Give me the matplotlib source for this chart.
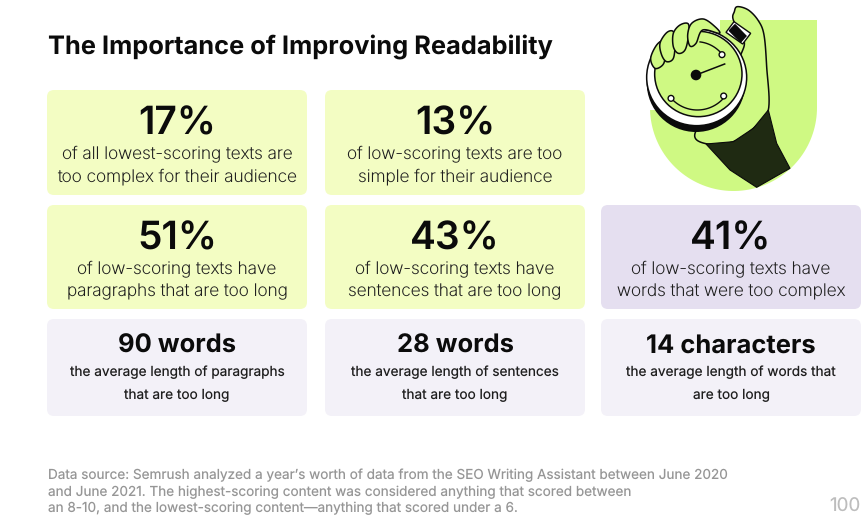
import matplotlib
matplotlib.use('Agg')
import matplotlib.pyplot as plt
import numpy as np
from matplotlib.patches import FancyBboxPatch, Ellipse, Polygon, Circle, Rectangle

plt.rcParams['font.family'] = ['Inter', 'DejaVu Sans']
plt.rcParams['text.hinting'] = 'no_hinting'

title = 'The Importance of Improving Readability'
top_values = ['17%', '13%']
top_captions = ['of all lowest-scoring texts are\ntoo complex for their audience',
                'of low-scoring texts are too\nsimple for their audience']
mid_values = ['51%', '43%', '41%']
mid_captions = ['of low-scoring texts have\nparagraphs that are too long',
                'of low-scoring texts have\nsentences that are too long',
                'of low-scoring texts have\nwords that were too complex']
low_values = ['90 words', '28 words', '14 characters']
low_captions = ['the average length of paragraphs\nthat are too long',
                'the average length of sentences\nthat are too long',
                'the average length of words that\nare too long']
source_lines = ['Data source: Semrush analyzed a year\u2019s worth of data from the SEO Writing Assistant between June 2020',
                'and June 2021. The highest-scoring content was considered anything that scored between',
                'an 8-10, and the lowest-scoring content\u2014anything that scored under a 6.']
page_number = '100'

GREEN_CARD = '#f3fdc3'
PURPLE_CARD = '#e5dff0'
PALE_CARD = '#f3f1f8'
LIME = '#cff983'
DARK = '#1f2a12'
INK = '#0b0b0b'

col_x = [47, 325, 601]
card_w = 260


def card(ax, x, y, w, h, color):
    ax.add_patch(FancyBboxPatch((x + 6, y + 6), w - 12, h - 12, boxstyle='round,pad=6,rounding_size=7',
                                fc=color, ec='none', zorder=1))


def stat_card(ax, x, y, h, color, value, caption, big, val_y, cap_y, cap_size, gap, val_weight, cap_weight):
    card(ax, x, y, card_w, h, color)
    cx = x + card_w / 2
    ax.text(cx, y + val_y, value, fontsize=big, fontweight=val_weight, ha='center', va='center', color=INK, zorder=3)
    for i, line in enumerate(caption.split('\n')):
        ax.text(cx, y + cap_y + i * gap, line, fontsize=cap_size, fontweight=cap_weight, ha='center', va='center',
                color='#1e1e1e', zorder=3)


def z(pts):
    return [(620 + px / 3, py / 3) for px, py in pts]


def smooth(pts, n=12):
    pts = np.array(pts, float)
    p = np.vstack([pts[-1], pts, pts[:2]])
    out = []
    for i in range(1, len(p) - 2):
        for t in np.linspace(0, 1, n, endpoint=False):
            out.append(0.5 * (2 * p[i] + (p[i + 1] - p[i - 1]) * t
                              + (2 * p[i - 1] - 5 * p[i] + 4 * p[i + 1] - p[i + 2]) * t ** 2
                              + (3 * p[i] - p[i - 1] - 3 * p[i + 1] + p[i + 2]) * t ** 3))
    return np.array(out)


def dial_arc(ax, cx, cy, r, a0, a1):
    t = np.radians(np.linspace(a0, a1, 40))
    ax.plot(620 + (cx + r * np.cos(t)) / 3, (cy - r * np.sin(t)) / 3, color=INK, lw=1, zorder=4.3)


def draw_watch(ax):
    # shield behind the hand
    theta = np.linspace(0, np.pi, 80)
    cx, cy, r = 733.5, 107.5, 83.5
    shield = [(817, 20), (817, cy)] + [(cx + r * np.cos(t), cy + r * np.sin(t)) for t in theta] + [(650, 20)]
    ax.add_patch(Polygon(shield, closed=True, fc=LIME, ec='none', zorder=2))
    ax.add_patch(Rectangle((640, 10), 80, 100, fc='white', ec='none', zorder=2.1))

    # forearm and thumb
    arm = z([(352, 20), (385, 30), (415, 62), (432, 105), (440, 200), (445, 330), (400, 385), (340, 425),
             (262, 432), (225, 400), (300, 300), (360, 170), (372, 120), (340, 60), (343, 35)])
    ax.add_patch(Polygon(smooth(arm), closed=True, fc=LIME, ec=INK, lw=1.1, zorder=3))
    # sleeve
    sleeve = z([(258, 432), (340, 425), (400, 385), (445, 330), (470, 430), (510, 505), (410, 562), (330, 510)])
    ax.add_patch(Polygon(sleeve, closed=True, fc=DARK, ec=INK, lw=0.8, zorder=3.2))

    # crown
    ax.add_patch(Polygon(z([(318, 97), (342, 65), (392, 100), (368, 132)]), closed=True,
                         fc='white', ec=INK, lw=1, zorder=3.4))
    ax.add_patch(Polygon(z([(328, 92), (345, 74), (378, 108), (362, 126)]), closed=True,
                         fc=INK, ec=INK, lw=1, zorder=3.5))

    # case: shadow, white ring, face
    ax.add_patch(Ellipse((620 + 228 / 3, 248 / 3), 296 / 3, 296 / 3, fc=INK, ec='none', zorder=4))
    ax.add_patch(Ellipse((620 + 230 / 3, 232 / 3), 300 / 3, 290 / 3, fc='white', ec=INK, lw=1.1, zorder=4.1))
    ax.add_patch(Ellipse((620 + 235 / 3, 222 / 3), 262 / 3, 256 / 3, fc=LIME, ec=INK, lw=1.1, zorder=4.2))
    # dial arcs and knobs
    dial_arc(ax, 228, 225, 100, 38, 83)
    dial_arc(ax, 232, 225, 105, -137, -37)
    for px, py in z([(153, 295), (311, 288), (306, 164)]):
        ax.add_patch(Circle((px, py), 2.9, fc='white', ec=INK, lw=1, zorder=4.4))
    # hand of the dial
    (x0, y0), (x1, y1) = z([(228, 225), (314, 192)])
    ax.plot([x0, x1], [y0, y1], color=INK, lw=1.1, zorder=4.5)
    ax.add_patch(Circle((x0, y0), 5.3, fc=INK, ec='none', zorder=4.6))

    # fingers over the case
    fingers = [[(92, 175), (110, 135), (130, 125), (135, 170), (128, 195), (105, 205)],
               [(120, 130), (140, 98), (160, 95), (165, 130), (160, 175), (140, 185), (125, 165)],
               [(160, 100), (180, 75), (205, 72), (205, 110), (195, 150), (175, 160), (160, 140)],
               [(203, 105), (215, 70), (250, 57), (285, 80), (298, 100), (248, 90), (228, 130), (210, 138)]]
    for i, f in enumerate(fingers):
        ax.add_patch(Polygon(smooth(z(f)), closed=True, fc=LIME, ec=INK, lw=1.1, zorder=5 + i / 10))


def main():
    fig = plt.figure(figsize=(8.68, 5.29), dpi=100)
    ax = fig.add_axes([0, 0, 1, 1])
    ax.set_xlim(0, 868)
    ax.set_ylim(529, 0)
    ax.axis('off')

    ax.text(48, 47, title, fontsize=18.3, fontweight='bold', ha='left', va='center', color=INK)

    for x, v, c in zip(col_x, top_values, top_captions):
        stat_card(ax, x, 90, 105, GREEN_CARD, v, c, 28, 34.5, 64, 12.4, 23, 'semibold', 'light')
    for i, (x, v, c) in enumerate(zip(col_x, mid_values, mid_captions)):
        color = PURPLE_CARD if i == 2 else GREEN_CARD
        stat_card(ax, x, 205, 104, color, v, c, 28, 34.5, 64, 12.4, 23, 'semibold', 'light')
    for x, v, c in zip(col_x, low_values, low_captions):
        stat_card(ax, x, 319, 97, PALE_CARD, v, c, 18.4, 27, 53, 9.8, 23, 'bold', 'normal')

    for i, line in enumerate(source_lines):
        ax.text(47.5, 475.5 + i * 16.5, line, fontsize=9.75, ha='left', va='center', color='#969696')
    ax.text(861, 507, page_number, fontsize=13.5, ha='right', va='center', color='#bdbdbd')

    draw_watch(ax)

    fig.savefig('out.png', dpi=100)


if __name__ == '__main__':
    main()
